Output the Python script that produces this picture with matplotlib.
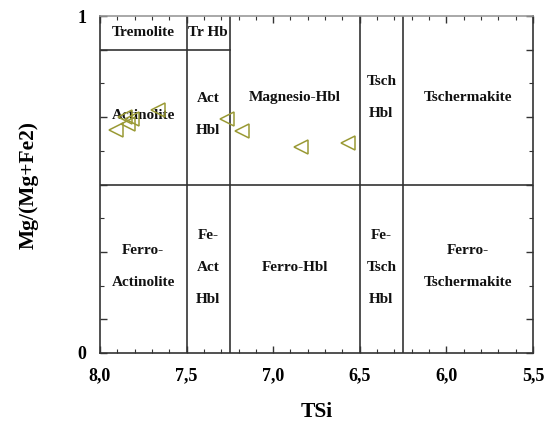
import numpy as np
import matplotlib
matplotlib.use("Agg")
from matplotlib import pyplot as plt
from matplotlib.ticker import MultipleLocator

# Amphibole analyses (Leake classification, calcic amphiboles)
tsi = [7.908, 7.838, 7.815, 7.856, 7.665, 7.267, 7.180, 6.840, 6.568]
mg_ratio = [0.662, 0.680, 0.694, 0.700, 0.721, 0.694, 0.659, 0.611, 0.623]

x_ticks = [8.0, 7.5, 7.0, 6.5, 6.0, 5.5]
x_labels = ["8,0", "7,5", "7,0", "6,5", "6,0", "5,5"]

# field boundaries
si_bounds = [7.5, 7.25, 6.5, 6.25]

# field names: (text, TSi, Mg ratio)
fields = [
    ("Tremolite", 7.75, 0.95),
    ("Tr Hb", 7.375, 0.95),
    ("Actinolite", 7.75, 0.706),
    ("Act\nHbl", 7.375, 0.708),
    ("Magnesio-Hbl", 6.875, 0.757),
    ("Tsch\nHbl", 6.375, 0.758),
    ("Tschermakite", 5.875, 0.757),
    ("Ferro-\nActinolite", 7.75, 0.257),
    ("Fe-\nAct\nHbl", 7.375, 0.255),
    ("Ferro-Hbl", 6.875, 0.255),
    ("Fe-\nTsch\nHbl", 6.375, 0.255),
    ("Ferro-\nTschermakite", 5.875, 0.257),
]

plt.rcParams["font.family"] = ["Liberation Serif", "DejaVu Serif"]

fig = plt.figure(figsize=(5.54, 4.26), dpi=100)
ax = fig.add_axes([0.1805, 0.1714, 0.7815, 0.791])

line_kw = dict(color="#333333", lw=1.2, zorder=2)
for s in si_bounds:
    ax.plot([s, s], [0, 1], **line_kw)
ax.plot([8.0, 5.5], [0.5, 0.5], **line_kw)
ax.plot([8.0, 7.25], [0.9, 0.9], **line_kw)

for text, x, y in fields:
    ax.text(x, y, text, ha="center", va="center", fontsize=11,
            fontweight="bold", linespacing=2.9, color="#111111", zorder=3)

ax.plot(tsi, mg_ratio, ls="none", marker="<", markersize=10,
        markerfacecolor="none", markeredgecolor="#9a9a35",
        markeredgewidth=1.1, zorder=4)

ax.set_xlim(8.0, 5.5)
ax.set_ylim(0, 1)
ax.set_xticks(x_ticks)
ax.set_xticklabels(x_labels)
ax.xaxis.set_minor_locator(MultipleLocator(0.1))
ax.set_yticks([0, 0.1, 0.3, 0.5, 0.7, 0.9, 1])
ax.set_yticklabels(["0", "", "", "", "", "", "1"])
ax.set_yticks([0.2, 0.4, 0.6, 0.8], minor=True)

ax.tick_params(which="both", direction="in", top=True, right=True,
               color="#333333", labelsize=13, pad=10)
ax.tick_params(which="major", length=5, width=1)
ax.tick_params(which="minor", length=3, width=0.8)
for lab in ax.get_xticklabels() + ax.get_yticklabels():
    lab.set_fontweight("bold")

for side in ["left", "bottom", "right"]:
    ax.spines[side].set_color("#333333")
    ax.spines[side].set_linewidth(1.2)
ax.spines["top"].set_color("#999999")
ax.spines["top"].set_linewidth(1.2)

ax.set_xlabel("TSi", fontsize=15.5, fontweight="bold", labelpad=13)
ax.set_ylabel("Mg/(Mg+Fe2)", fontsize=15.5, fontweight="bold", labelpad=28)

fig.savefig("out.png", dpi=100)
